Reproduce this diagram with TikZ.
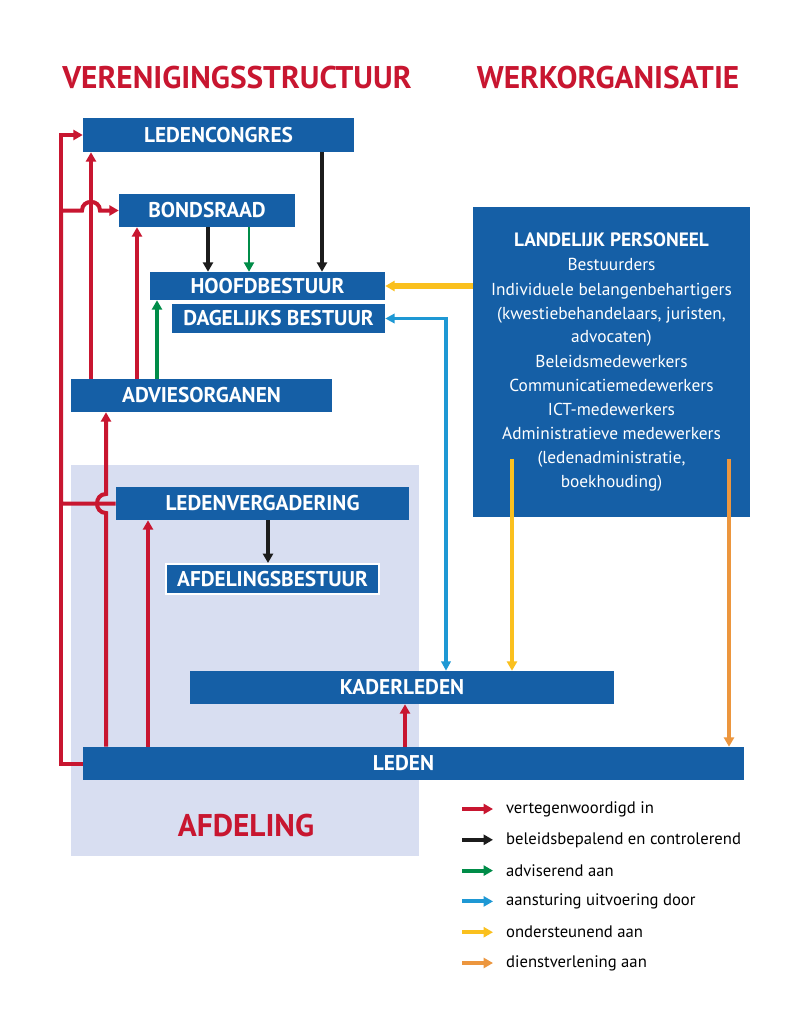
\documentclass[tikz,border=0pt]{standalone}
\usepackage{fontspec}
\setmainfont{PT Sans}
\usetikzlibrary{arrows.meta}

\definecolor{vbblue}{RGB}{21,95,166}
\definecolor{vbred}{RGB}{200,22,48}
\definecolor{vbshade}{RGB}{216,222,241}
\definecolor{vbgreen}{RGB}{0,140,72}
\definecolor{vbcyan}{RGB}{30,152,212}
\definecolor{vbyellow}{RGB}{250,192,30}
\definecolor{vborange}{RGB}{236,150,62}
\definecolor{vbblack}{RGB}{28,28,28}

\tikzset{
  wh/.style 2 args={minimum width=#1*0.75pt, minimum height=#2*0.75pt},
  orgbox/.style={fill=vbblue, text=white, inner sep=0pt,
    font=\bfseries\fontsize{16}{18}\selectfont},
  heading/.style={text=vbred, font=\bfseries\fontsize{23.5}{26}\selectfont},
  tip/.style={-{Triangle[length=7pt,width=7.5pt]}},
  rep/.style={tip, draw=vbred, line width=3pt},
  policy/.style={tip, draw=vbblack, line width=3pt},
  advise/.style={tip, draw=vbgreen, line width=3pt},
  steer/.style={{Triangle[length=7pt,width=7pt]}-{Triangle[length=7pt,width=7pt]}, draw=vbcyan, line width=2.5pt},
  support/.style={tip, draw=vbyellow, line width=2.5pt},
  service/.style={tip, draw=vborange, line width=2.5pt},
}

\begin{document}
\begin{tikzpicture}[x=0.75pt, y=-0.75pt]
  % Canvas
  \fill[white] (0,0) rectangle (800,1020);

  % Headings
  \node[heading] (vs) at (237,78) {VERENIGINGSSTRUCTUUR};
  \node[heading] (wo) at (608,78) {WERKORGANISATIE};

  % Afdeling area
  \node[fill=vbshade, inner sep=0pt, wh={348}{391}] (afd) at (245,660.5) {};
  \node[heading] (afdname) at (246,826) {AFDELING};

  % Boxes of the association
  \node[orgbox, wh={271}{34}] (lc) at (218.5,135) {LEDENCONGRES};
  \node[orgbox, wh={176}{33}] (br) at (207,210.5) {BONDSRAAD};
  \node[orgbox, wh={235}{28}] (hb) at (267.5,286) {HOOFDBESTUUR};
  \node[orgbox, wh={213}{29}] (db) at (278.5,318.5) {DAGELIJKS BESTUUR};
  \node[orgbox, wh={261}{33}] (ao) at (201.5,395.5) {ADVIESORGANEN};
  \node[orgbox, wh={293}{33}] (lv) at (262.5,503.5) {LEDENVERGADERING};
  \node[orgbox, draw=white, line width=1.5pt, wh={213}{30}] (ab) at (272.5,579) {AFDELINGSBESTUUR};
  \node[orgbox, wh={424}{33}] (kl) at (402,687.5) {KADERLEDEN};
  \node[orgbox, wh={661}{33}] (ld) at (413.5,763.5) {\hspace*{-15pt}LEDEN};

  % Staff
  \node[fill=vbblue, text=white, inner sep=0pt, wh={277}{310}, align=center,
    font=\fontsize{13}{18}\selectfont] (lp) at (611.5,362)
    {{\bfseries\fontsize{14.5}{18}\selectfont LANDELIJK PERSONEEL}\\Bestuurders\\Individuele belangenbehartigers\\
     (kwestiebehandelaars, juristen,\\advocaten)\\Beleidsmedewerkers\\
     Communicatiemedewerkers\\ICT-medewerkers\\Administratieve medewerkers\\
     (ledenadministratie,\\boekhouding)};

  % Red: vertegenwoordigd in
  \draw[rep] (ld.west) -| (61,135) -- (lc.west);
  \draw[rep] (lv.west) -| (61,210.5) -- (82,210.5)
    .. controls (82,199) and (100,199) .. (100,210.5) -- (br.west);
  \draw[rep] (ao.north -| 91,0) -- (lc.south -| 91,0);
  \draw[rep] (ao.north -| 137,0) -- (br.south -| 137,0);
  \draw[rep] (ld.north -| 106,0) -- (106,513)
    .. controls (94,513) and (94,494) .. (106,494) -- (ao.south -| 106,0);
  \draw[rep] (ld.north -| 148,0) -- (lv.south -| 148,0);
  \draw[rep] (ld.north -| 405,0) -- (kl.south -| 405,0);

  % Black: beleidsbepalend en controlerend
  \draw[policy] (lc.south -| 322,0) -- (hb.north -| 322,0);
  \draw[policy] (br.south -| 208,0) -- (hb.north -| 208,0);
  \draw[policy] (lv.south -| 268,0) -- (ab.north -| 268,0);

  % Green: adviserend aan
  \draw[advise, line width=1.5pt] (br.south -| 249,0) -- (hb.north -| 249,0);
  \draw[advise] (ao.north -| 157,0) -- (hb.south -| 157,0);

  % Blue: aansturing uitvoering door
  \draw[steer] (db.east) -| (kl.north -| 446,0);

  % Yellow and orange from the staff
  \coordinate (ys) at (512,459);
  \coordinate (os) at (729,459);
  \draw[support, line width=5pt] (lp.west |- hb.east) -- (hb.east);
  \draw[support] (ys) -- (kl.north -| ys);
  \draw[service] (os) -- (ld.north -| os);

  % Legend
  \foreach \c/\t [count=\i from 0] in {vbred/vertegenwoordigd in,
      vbblack/beleidsbepalend en controlerend, vbgreen/adviserend aan,
      vbcyan/aansturing uitvoering door, vbyellow/ondersteunend aan,
      vborange/dienstverlening aan} {
    \coordinate (key\i) at (462,809+30.8*\i);
    \draw[tip, draw=\c, line width=3pt] (key\i) -- ++(31,0)
      node[right, xshift=5pt, text=black, font=\fontsize{12.5}{14}\selectfont] (keytext\i) {\t};
  }
\end{tikzpicture}
\end{document}
